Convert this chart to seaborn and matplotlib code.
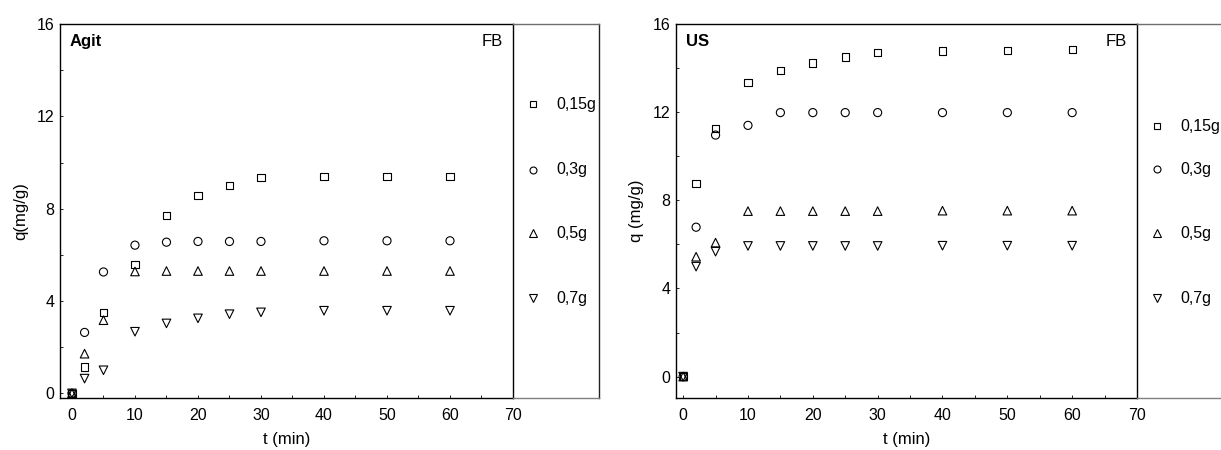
import numpy as np
import pandas as pd
import matplotlib
matplotlib.use("Agg")
import matplotlib.pyplot as plt
from matplotlib.ticker import MultipleLocator
import seaborn as sns

# ---- data -------------------------------------------------------------
t_min = [0, 2, 5, 10, 15, 20, 25, 30, 40, 50, 60]
doses = ["0,15g", "0,3g", "0,5g", "0,7g"]

# Agitation (Agit)
agit_015 = [0.0, 1.14, 3.49, 5.57, 7.70, 8.57, 9.01, 9.36, 9.39, 9.39, 9.39]
agit_03 = [0.0, 2.64, 5.26, 6.42, 6.55, 6.58, 6.58, 6.58, 6.61, 6.61, 6.61]
agit_05 = [0.0, 1.72, 3.17, 5.28, 5.30, 5.30, 5.30, 5.30, 5.30, 5.30, 5.30]
agit_07 = [0.0, 0.64, 1.00, 2.67, 3.03, 3.25, 3.43, 3.51, 3.58, 3.58, 3.58]

# Ultrasound (US)
us_015 = [0.0, 8.77, 11.26, 13.35, 13.88, 14.23, 14.50, 14.70, 14.77, 14.80, 14.86]
us_03 = [0.0, 6.78, 10.96, 11.40, 11.98, 11.98, 11.98, 11.98, 11.98, 11.98, 11.98]
us_05 = [0.0, 5.44, 6.08, 7.51, 7.51, 7.51, 7.51, 7.51, 7.53, 7.53, 7.53]
us_07 = [0.0, 4.99, 5.67, 5.93, 5.93, 5.93, 5.93, 5.93, 5.94, 5.94, 5.94]

y_ticks = [0, 4, 8, 12, 16]
x_ticks = [0, 10, 20, 30, 40, 50, 60, 70]


def long_table(series):
    frames = []
    for dose, values in zip(doses, series):
        frames.append(pd.DataFrame({"t": t_min, "q": values, "dose": dose}))
    return pd.concat(frames, ignore_index=True)


agit = long_table([agit_015, agit_03, agit_05, agit_07])
us = long_table([us_015, us_03, us_05, us_07])

# ---- style ------------------------------------------------------------
sns.set_style("ticks")
plt.rcParams["font.family"] = ["Liberation Sans", "DejaVu Sans"]
plt.rcParams["axes.linewidth"] = 1.0
plt.rcParams["text.color"] = "black"
plt.rcParams["axes.labelcolor"] = "black"
plt.rcParams["xtick.color"] = "black"
plt.rcParams["ytick.color"] = "black"

marker_map = {"0,15g": "s", "0,3g": "o", "0,5g": "^", "0,7g": "v"}
marker_area = {"0,15g": 27, "0,3g": 34, "0,5g": 38, "0,7g": 38}
key_marker_size = {"0,15g": 4.5, "0,3g": 5.0, "0,5g": 6.0, "0,7g": 6.0}

W, H = 1221, 450
fig = plt.figure(figsize=(W / 100, H / 100), dpi=100)


def px_box(x0, x1, y_top, y_bot):
    return [x0 / W, 1 - y_bot / H, (x1 - x0) / W, (y_bot - y_top) / H]


def draw_panel(box, legend_box, data, tag, ylabel, ylim, xlim, legend_y):
    ax = fig.add_axes(box)
    sns.scatterplot(
        data=data, x="t", y="q", style="dose", markers=marker_map,
        style_order=doses, size="dose", sizes=marker_area, size_order=doses,
        facecolor="none", edgecolor="black",
        linewidth=0.8, legend=False, ax=ax, zorder=3,
    )
    ax.set_xlim(*xlim)
    ax.set_ylim(*ylim)
    ax.set_xticks(x_ticks)
    ax.set_yticks(y_ticks)
    ax.xaxis.set_minor_locator(MultipleLocator(5))
    ax.yaxis.set_minor_locator(MultipleLocator(2))
    ax.tick_params(which="both", direction="in", length=2, width=0.6,
                   labelsize=11.5, colors="black")
    ax.tick_params(axis="x", pad=7)
    ax.tick_params(axis="y", pad=4)
    ax.set_xlabel("t (min)", fontsize=12, labelpad=7, color="black")
    ax.set_ylabel(ylabel, fontsize=12, labelpad=6, color="black")
    for sp in ax.spines.values():
        sp.set_visible(True)
        sp.set_color("black")
        sp.set_linewidth(1.0)
    ax.text(0.022, 0.952, tag, transform=ax.transAxes, fontsize=12,
            fontweight="bold", ha="left", va="center", color="black")
    ax.text(0.977, 0.952, "FB", transform=ax.transAxes, fontsize=12,
            ha="right", va="center", color="black")

    # side key panel
    lg = fig.add_axes(legend_box)
    lg.set_xlim(0, 1)
    lg.set_ylim(0, 1)
    lg.set_xticks([])
    lg.set_yticks([])
    lg.patch.set_alpha(0)
    lg.spines["left"].set_visible(False)
    lg.spines["top"].set_color("#6e6e6e")
    lg.spines["bottom"].set_color("#808080")
    lg.spines["right"].set_color("#222222")
    for sp in ("top", "bottom", "right"):
        lg.spines[sp].set_linewidth(1.0)
    for dose, yy in zip(doses, legend_y):
        lg.plot([0.233], [yy], marker=marker_map[dose],
                ms=key_marker_size[dose], mfc="none",
                mec="black", mew=0.8, ls="none")
        lg.text(0.5, yy, dose, fontsize=11.5, ha="left", va="center",
                color="black")
    return ax


draw_panel(px_box(60, 513, 24, 398), px_box(513, 599, 24, 398), agit,
           "Agit", "q(mg/g)", (-0.2, 16), (-1.9, 70),
           [0.786, 0.610, 0.441, 0.267])
draw_panel(px_box(676, 1137, 24, 398), px_box(1137, 1223, 24, 398), us,
           "US", "q (mg/g)", (-0.97, 16), (-1.1, 70),
           [0.727, 0.612, 0.441, 0.267])

fig.savefig("out.png", dpi=100)
